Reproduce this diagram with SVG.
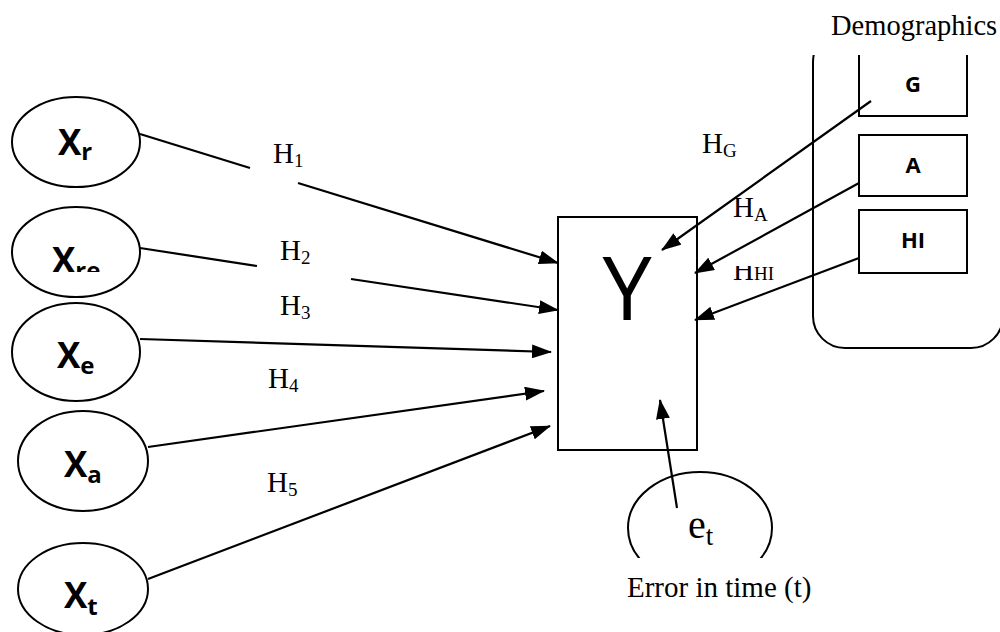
<svg xmlns="http://www.w3.org/2000/svg" width="1000" height="632" viewBox="0 0 1000 632">
<style>
.shape{fill:#fff;stroke:#000;stroke-width:2}
.line{fill:none;stroke:#000;stroke-width:2.2}
.xl{font-family:"Open Sans",sans-serif;font-weight:700;font-size:35px;fill:#000}
.xs{font-size:24px}
.dl{font-family:"Open Sans",sans-serif;font-weight:700;font-size:22px;fill:#000}
.tl{font-family:"Liberation Serif","Times New Roman",serif;font-size:29px;fill:#000}
.sub{font-size:19px}
.et{font-size:40px}
.ets{font-size:27px}
.demo{font-size:28.5px}
</style>
<defs>
<marker id="ah" markerUnits="userSpaceOnUse" markerWidth="20" markerHeight="14" refX="19" refY="7" orient="auto">
<path d="M0,0 L20,7 L0,14 z" fill="#000"/>
</marker>
<clipPath id="topClip"><rect x="0" y="55" width="1000" height="600"/></clipPath>
<clipPath id="xreClip"><rect x="0" y="0" width="1000" height="272"/></clipPath>
<clipPath id="hiClip"><rect x="0" y="266" width="1000" height="400"/></clipPath>
<clipPath id="etClip"><rect x="0" y="0" width="1000" height="558"/></clipPath>
</defs>
<rect width="1000" height="632" fill="#fff"/>

<g id="demographics">
<rect class="shape" x="813" y="30" width="190" height="318" rx="32" clip-path="url(#topClip)"/>
<text class="tl demo" x="831" y="35">Demographics</text>
</g>
<g id="node-G">
<rect class="shape" x="859" y="40" width="108" height="76" clip-path="url(#topClip)"/>
<text class="dl" x="913" y="92" text-anchor="middle">G</text>
</g>
<g id="node-A">
<rect class="shape" x="859" y="135" width="108" height="61"/>
<text class="dl" x="913" y="173" text-anchor="middle">A</text>
</g>
<g id="node-HI">
<rect class="shape" x="859" y="210" width="108" height="63"/>
<text class="dl" x="913" y="248" text-anchor="middle">HI</text>
</g>

<g id="node-Xr">
<ellipse class="shape" cx="76" cy="142" rx="64" ry="45"/>
<text class="xl" x="58" y="155">X<tspan class="xs" dy="5">r</tspan></text>
</g>
<g id="node-Xre">
<ellipse class="shape" cx="76" cy="252" rx="64" ry="45"/>
<text class="xl" x="52" y="273" clip-path="url(#xreClip)">X<tspan class="xs" dy="6">re</tspan></text>
</g>
<g id="node-Xe">
<ellipse class="shape" cx="76" cy="352" rx="64" ry="49"/>
<text class="xl" x="57" y="368">X<tspan class="xs" dy="6">e</tspan></text>
</g>
<g id="node-Xa">
<ellipse class="shape" cx="83" cy="461" rx="65" ry="50"/>
<text class="xl" x="64" y="477">X<tspan class="xs" dy="6">a</tspan></text>
</g>
<g id="node-Xt">
<ellipse class="shape" cx="83" cy="589" rx="65" ry="46"/>
<text class="xl" x="64" y="608">X<tspan class="xs" dy="7">t</tspan></text>
</g>

<g id="node-Y">
<rect class="shape" x="558" y="217" width="139" height="233"/>
<text x="627" y="320" text-anchor="middle" font-family="'Open Sans',sans-serif" font-size="88" fill="#000">Y</text>
</g>

<g id="node-et">
<ellipse class="shape" cx="700" cy="528" rx="72" ry="56" clip-path="url(#etClip)"/>
<text class="tl et" x="688" y="538">e<tspan class="ets" dy="7">t</tspan></text>
<text class="tl" x="627" y="597">Error in time (t)</text>
</g>

<g id="connectors">
<line class="line" x1="140" y1="134" x2="250" y2="168"/>
<line class="line" x1="298" y1="183" x2="558" y2="263" marker-end="url(#ah)"/>
<line class="line" x1="140" y1="248" x2="257" y2="266"/>
<line class="line" x1="351" y1="279" x2="558" y2="310" marker-end="url(#ah)"/>
<line class="line" x1="140" y1="339" x2="551" y2="352" marker-end="url(#ah)"/>
<line class="line" x1="148" y1="447" x2="544" y2="391" marker-end="url(#ah)"/>
<line class="line" x1="148" y1="579" x2="550" y2="426" marker-end="url(#ah)"/>
<line class="line" x1="871" y1="101" x2="662" y2="250" marker-end="url(#ah)"/>
<line class="line" x1="859" y1="183" x2="695" y2="273" marker-end="url(#ah)"/>
<line class="line" x1="859" y1="258" x2="695" y2="320" marker-end="url(#ah)"/>
<line class="line" x1="677" y1="508" x2="660" y2="400" marker-end="url(#ah)"/>
</g>

<g id="labels">
<text class="tl" x="273" y="163">H<tspan class="sub" dy="4">1</tspan></text>
<text class="tl" x="280" y="260">H<tspan class="sub" dy="4">2</tspan></text>
<text class="tl" x="280" y="315">H<tspan class="sub" dy="4">3</tspan></text>
<text class="tl" x="268" y="388">H<tspan class="sub" dy="4">4</tspan></text>
<text class="tl" x="267" y="492">H<tspan class="sub" dy="4">5</tspan></text>
<text class="tl" x="702" y="153">H<tspan class="sub" dy="4">G</tspan></text>
<text class="tl" x="733" y="217">H<tspan class="sub" dy="4">A</tspan></text>
<text class="tl" x="733" y="280" clip-path="url(#hiClip)">H<tspan class="sub" dy="0">HI</tspan></text>
</g>
</svg>
